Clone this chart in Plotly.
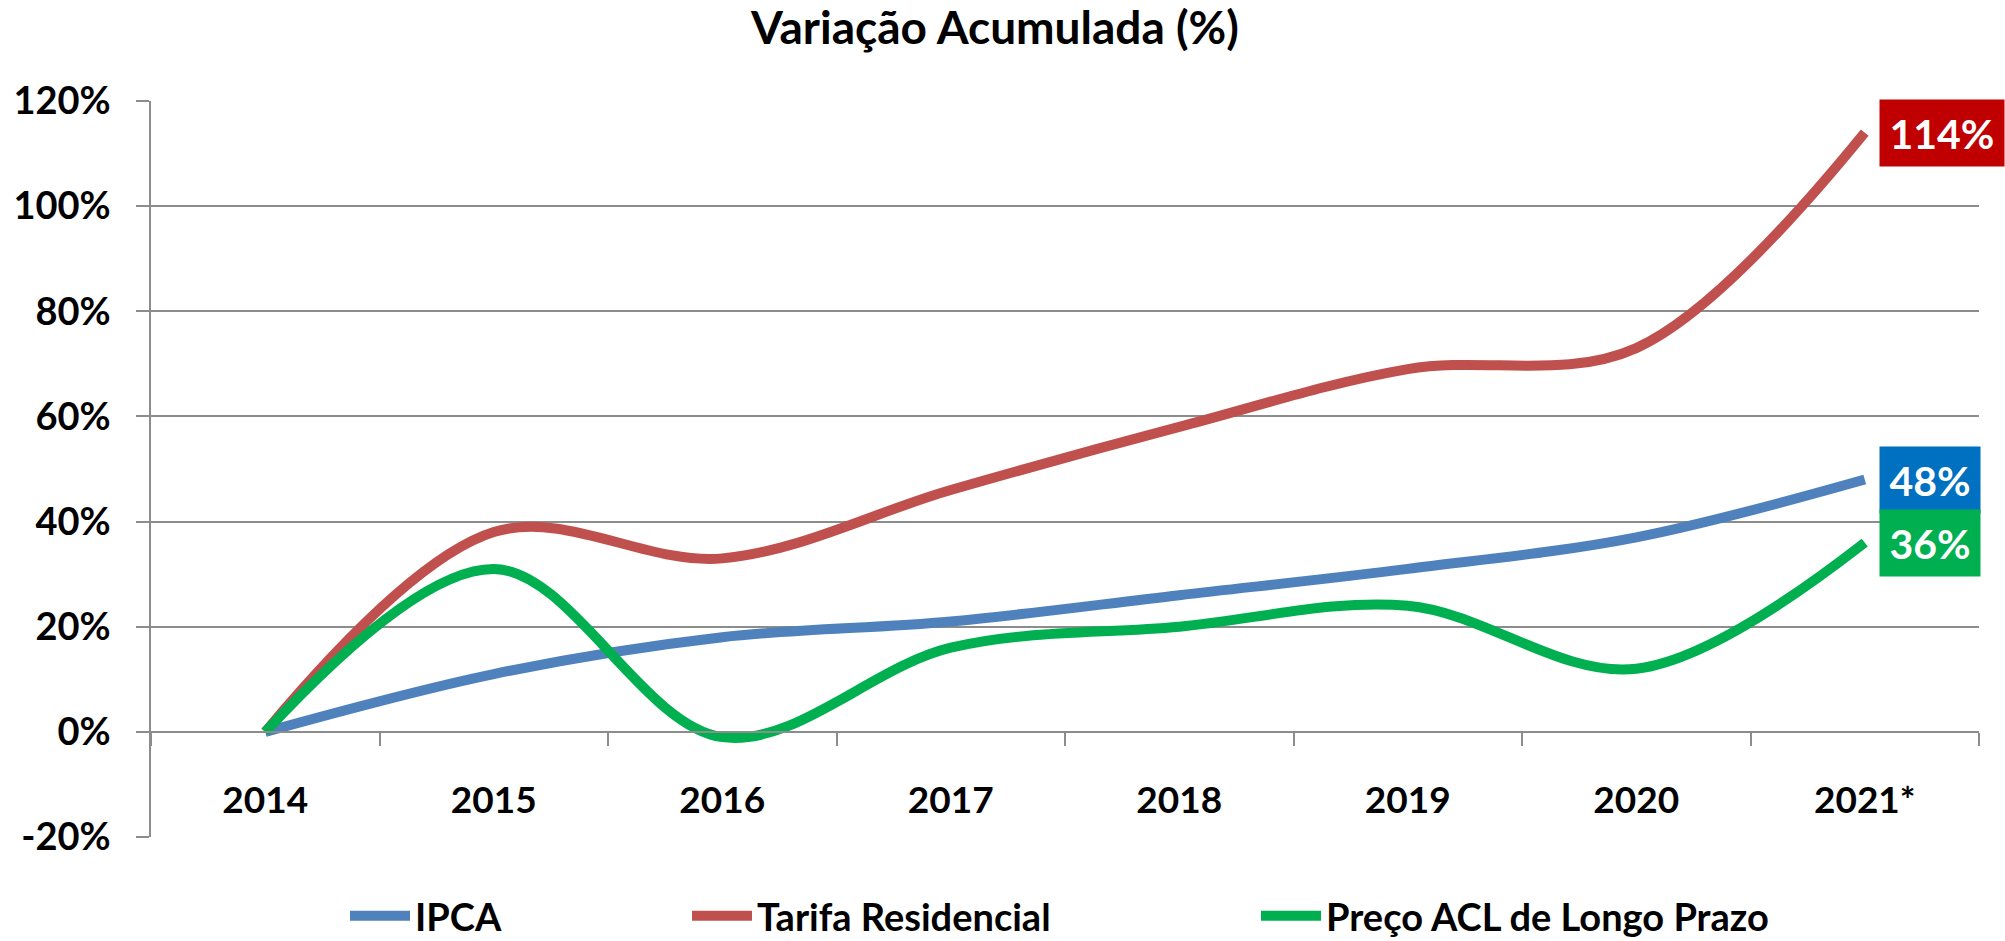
import plotly.graph_objects as go

years = ["2014", "2015", "2016", "2017", "2018", "2019", "2020", "2021*"]
ipca = [0.0, 0.11, 0.18, 0.21, 0.26, 0.31, 0.37, 0.48]
tarifa = [0.0, 0.38, 0.33, 0.46, 0.58, 0.69, 0.73, 1.14]
preco_acl = [0.0, 0.31, -0.01, 0.16, 0.20, 0.24, 0.12, 0.36]

y_tick_values = [-0.2, 0.0, 0.2, 0.4, 0.6, 0.8, 1.0, 1.2]
y_tick_labels = ["-20%", "0%", "20%", "40%", "60%", "80%", "100%", "120%"]

series_names = ["IPCA", "Tarifa Residencial", "Preço ACL de Longo Prazo"]
series_values = [ipca, tarifa, preco_acl]
line_colors = ["#4F81BD", "#C0504D", "#00B050"]
label_colors = ["#0070C0", "#C00000", "#00B050"]
label_texts = ["48%", "114%", "36%"]
legend_ids = ["legend", "legend2", "legend3"]

FONT = "Lato"
GRID = "#8C8C8C"

fig = go.Figure()
for name, vals, col, lg in zip(series_names, series_values, line_colors, legend_ids):
    fig.add_trace(go.Scatter(
        x=years, y=vals, name=name, mode="lines",
        line=dict(color=col, width=10, shape="spline", smoothing=1.0),
        legend=lg, hoverinfo="skip",
    ))

# end-of-series value labels
for vals, txt, bg in zip(series_values, label_texts, label_colors):
    w = 124 if len(txt) > 3 else 100
    fig.add_annotation(
        x=years[-1], y=vals[-1], xref="x", yref="y",
        text=txt, showarrow=False, xanchor="left", yanchor="middle",
        xshift=14, bgcolor=bg, width=w, height=66, borderpad=0,
        font=dict(family=FONT, size=41, color="white", weight="bold"),
        align="center", valign="middle",
    )

legend_common = dict(
    orientation="h", xref="container", yref="container",
    yanchor="middle", y=1 - 916 / 941, xanchor="left",
    bgcolor="rgba(0,0,0,0)", borderwidth=0, itemwidth=60,
    font=dict(family=FONT, size=38, color="black", weight="bold"),
)

fig.update_layout(
    width=2005, height=941,
    margin=dict(l=151, r=26, t=101, b=104, autoexpand=False),
    paper_bgcolor="white", plot_bgcolor="white",
    font=dict(family=FONT, color="black"),
    title=dict(
        text="Variação Acumulada (%)", xref="container", yref="container",
        x=995 / 2005, xanchor="center", y=1 - 28 / 941, yanchor="middle",
        font=dict(family=FONT, size=46, color="black", weight="bold"),
    ),
    showlegend=True,
    legend=dict(legend_common, x=(415 - 70) / 2005),
    legend2=dict(legend_common, x=(757 - 70) / 2005),
    legend3=dict(legend_common, x=(1326 - 70) / 2005),
    xaxis=dict(
        type="category", anchor="free", position=0.2 / 1.4,
        showline=True, linecolor=GRID, linewidth=1.5,
        ticks="outside", ticklen=13, tickcolor=GRID, tickwidth=1.5,
        tickson="boundaries", showgrid=False, zeroline=False,
        ticklabelstandoff=36,
        tickfont=dict(family=FONT, size=37, color="black", weight="bold"),
        range=[-0.5, 7.5],
    ),
    yaxis=dict(
        range=[-0.2, 1.2], tickmode="array",
        tickvals=y_tick_values, ticktext=y_tick_labels,
        showgrid=True, gridcolor=GRID, gridwidth=1.5,
        showline=True, linecolor=GRID, linewidth=1.5,
        ticks="outside", ticklen=13, tickcolor=GRID, tickwidth=1.5,
        zeroline=False, ticklabelstandoff=18,
        tickfont=dict(family=FONT, size=38, color="black", weight="bold"),
    ),
)

fig.write_html("out.html", config={"displayModeBar": False},
               post_script="document.body.style.margin='0';")
